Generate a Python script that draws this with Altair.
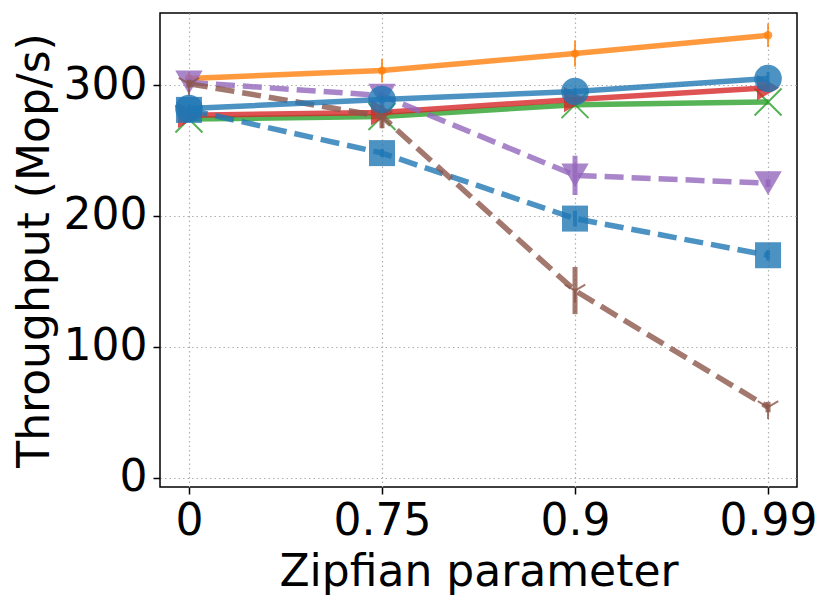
import altair as alt
import pandas as pd

# ---- data ----
x_labels = ["0", "0.75", "0.9", "0.99"]
x_pos = [0, 1, 2, 3]

orange_y = [305, 311, 324, 338]
orange_err = [5, 9, 10, 9]
green_y = [274, 276, 285, 287]
green_err = [1, 1, 1, 1]
red_y = [277, 279, 289, 298]
red_err = [2, 2, 2, 2]
purple_y = [302, 292, 231, 225]
purple_err = [3, 3, 15, 3]
bluesq_y = [281, 248, 198, 170]
bluesq_err = [3, 3, 6, 4]
brown_y = [301, 276, 143, 54]
brown_err = [3, 9, 18, 4]
bluec_y = [282, 289, 295, 305]
bluec_err = [3, 3, 3, 5]

X_PATH = "M-1,-1L1,1M-1,1L1,-1"
TRI_PATH = "M0,0L0,1M0,0L-0.866,-0.5M0,0L0.866,-0.5"

series = [
    # name, values, errors, color, dashed, shape, size, filled, errwidth
    ("orange", orange_y, orange_err, "#ff7f0e", False, "circle", 70, True, 2),
    ("green", green_y, green_err, "#2ca02c", False, X_PATH, 729, False, 2),
    ("red", red_y, red_err, "#d62728", False, "triangle-right", 650, True, 2),
    ("purple", purple_y, purple_err, "#9467bd", True, "triangle-down", 750, True, 5),
    ("bluesq", bluesq_y, bluesq_err, "#1f77b4", True, "square", 676, True, 4),
    ("brown", brown_y, brown_err, "#8c564b", True, TRI_PATH, 560, False, 5),
    ("bluec", bluec_y, bluec_err, "#1f77b4", False, "circle", 760, True, 3),
]

label_expr = "[" + ",".join("'%s'" % s for s in x_labels) + "][datum.value]"

x_enc = alt.X("x:Q", scale=alt.Scale(domain=[-0.15, 3.15], nice=False, zero=False),
              axis=alt.Axis(values=x_pos, labelExpr=label_expr, title="Zipfian parameter"))
y_enc = alt.Y("y:Q", scale=alt.Scale(domain=[-7, 355], nice=False, zero=False),
              axis=alt.Axis(values=[0, 100, 200, 300], title="Throughput (Mop/s)"))

layers = []
for name, vals, errs, color, dashed, shape, size, filled, ew in series:
    df = pd.DataFrame({
        "x": x_pos,
        "y": vals,
        "lo": [v - e for v, e in zip(vals, errs)],
        "hi": [v + e for v, e in zip(vals, errs)],
    })
    base = alt.Chart(df)
    line_kwargs = dict(color=color, strokeWidth=5.5, opacity=0.8)
    if dashed:
        line_kwargs["strokeDash"] = [19, 8]
    layers.append(base.mark_line(**line_kwargs).encode(x=x_enc, y=y_enc))
    layers.append(base.mark_rule(color=color, strokeWidth=ew, opacity=0.8).encode(
        x="x:Q", y="lo:Q", y2="hi:Q"))
    if filled:
        pt = base.mark_point(shape=shape, size=size, filled=True, color=color,
                             opacity=0.8, strokeWidth=1)
    else:
        pt = base.mark_point(shape=shape, size=size, filled=False, color=color,
                             opacity=0.8, strokeWidth=2)
    layers.append(pt.encode(x="x:Q", y="y:Q"))

chart = alt.layer(*layers).properties(
    width=637,
    height=474,
    autosize=alt.AutoSizeParams(type="none"),
    padding={"left": 152, "top": 5, "right": 26, "bottom": 111},
).configure_view(
    stroke="black", strokeWidth=1.5
).configure_axis(
    labelFont="DejaVu Sans",
    titleFont="DejaVu Sans",
    labelFontSize=44,
    titleFontSize=44,
    titleFontWeight="normal",
    labelColor="black",
    titleColor="black",
    domain=False,
    tickColor="black",
    tickSize=7,
    tickWidth=1.5,
    grid=True,
    gridColor="#b0b0b0",
    gridDash=[1.5, 3],
    gridWidth=1.2,
).configure_axisX(
    labelPadding=5,
    titlePadding=7,
).configure_axisY(
    labelPadding=6,
    titlePadding=6,
)

chart.save("out.html", embed_options={"renderer": "svg", "actions": False})
